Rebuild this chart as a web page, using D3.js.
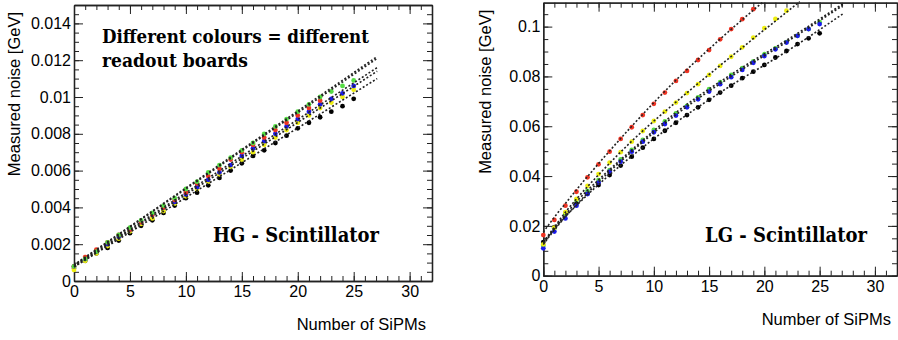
<!DOCTYPE html>
<html>
<head>
<meta charset="utf-8">
<script src="https://cdn.jsdelivr.net/npm/d3@7"></script>
<style>
  body { margin: 0; background: #fff; }
  svg { display: block; }
  .tick text { font-family: "Liberation Sans", Arial, sans-serif; font-size: 16px; fill: #000; }
  .axtitle { font-family: "Liberation Sans", Arial, sans-serif; font-size: 16.5px; fill: #000; }
  .note { font-family: "DejaVu Serif", serif; font-weight: bold; fill: #000; }
</style>
</head>
<body>
<svg id="chart" width="898" height="340"></svg>
<script>
// number of SiPMs on each point
const nSipm = d3.range(0, 26);

// HG - Scintillator, measured noise [GeV] per readout board
const hgGreen = [0.0008, 0.0012, 0.0016, 0.0021, 0.0025, 0.0029, 0.0033, 0.0037, 0.0041, 0.0045, 0.0050, 0.0054, 0.0059, 0.0063, 0.0067, 0.0071, 0.0075, 0.0080, 0.0084, 0.0088, 0.0092, 0.0096, 0.0100, 0.0103, 0.0106, 0.0109];
const hgRed   = [0.0008, 0.0013, 0.0017, 0.0021, 0.0025, 0.0028, 0.0032, 0.0036, 0.0040, 0.0044, 0.0048, 0.0053, 0.0057, 0.0061, 0.0066, 0.0070, 0.0074, 0.0078, 0.0082, 0.0086, 0.0090, 0.0094, 0.0098];
const hgBlue  = [0.0008, 0.0012, 0.0016, 0.0020, 0.0024, 0.0028, 0.0032, 0.0036, 0.0040, 0.0043, 0.0047, 0.0051, 0.0055, 0.0059, 0.0063, 0.0068, 0.0072, 0.0076, 0.0080, 0.0084, 0.0088, 0.0092, 0.0096, 0.0099, 0.0102, 0.0106];
const hgYellow= [0.0006, 0.0011, 0.0015, 0.0019, 0.0023, 0.0027, 0.0031, 0.0034, 0.0038, 0.0042, 0.0046, 0.0050, 0.0054, 0.0058, 0.0062, 0.0066, 0.0070, 0.0074, 0.0078, 0.0082, 0.0086, 0.0090, 0.0094, 0.0097, 0.0100, 0.0104];
const hgBlack = [0.0007, 0.0011, 0.0015, 0.0018, 0.0022, 0.0026, 0.0030, 0.0033, 0.0037, 0.0041, 0.0045, 0.0048, 0.0052, 0.0056, 0.0060, 0.0064, 0.0068, 0.0071, 0.0075, 0.0079, 0.0083, 0.0086, 0.0089, 0.0092, 0.0095, 0.0099];

// HG fits, [N, noise]
const hgFitGreen  = [[0, 0.00088], [27.1, 0.0122]];
const hgFitRed    = [[0, 0.00085], [27.1, 0.0121]];
const hgFitBlue   = [[0, 0.00082], [27.1, 0.0116]];
const hgFitYellow = [[0, 0.00078], [27.1, 0.0114]];
const hgFitBlack  = [[0, 0.00076], [27.1, 0.0110]];

// LG - Scintillator
const lgRed   = [0.0163, 0.0224, 0.0281, 0.0337, 0.0395, 0.0447, 0.0498, 0.0549, 0.0596, 0.0645, 0.0690, 0.0735, 0.0782, 0.0822, 0.0866, 0.0906, 0.0949, 0.0990, 0.1030, 0.1070];
const lgYellow= [0.0126, 0.0193, 0.0255, 0.0308, 0.0361, 0.0408, 0.0454, 0.0496, 0.0538, 0.0581, 0.0621, 0.0659, 0.0695, 0.0733, 0.0769, 0.0806, 0.0842, 0.0879, 0.0917, 0.0956, 0.0994, 0.1031, 0.1064, 0.1098];
const lgGreen = [0.0120, 0.0190, 0.0250, 0.0304, 0.0340, 0.0384, 0.0424, 0.0467, 0.0505, 0.0545, 0.0585, 0.0619, 0.0652, 0.0682, 0.0716, 0.0749, 0.0777, 0.0806, 0.0833, 0.0860, 0.0889, 0.0913, 0.0938, 0.0963, 0.0990, 0.1018];
const lgBlue  = [0.0110, 0.0177, 0.0230, 0.0281, 0.0328, 0.0374, 0.0418, 0.0458, 0.0498, 0.0538, 0.0576, 0.0609, 0.0643, 0.0676, 0.0708, 0.0739, 0.0769, 0.0797, 0.0826, 0.0855, 0.0882, 0.0909, 0.0936, 0.0963, 0.0990, 0.1010];
const lgBlack = [0.0135, 0.0195, 0.0250, 0.0290, 0.0330, 0.0364, 0.0404, 0.0442, 0.0478, 0.0514, 0.0549, 0.0582, 0.0614, 0.0645, 0.0676, 0.0706, 0.0735, 0.0763, 0.0793, 0.0819, 0.0846, 0.0876, 0.0902, 0.0930, 0.0953, 0.0973];

// LG fits
const lgFitRed    = [[0, 0.0175], [0.5, 0.0205], [1, 0.0235], [2, 0.0290], [3, 0.0345], [5, 0.0450], [8, 0.0600], [12, 0.0785], [16, 0.0950], [19.9, 0.1100]];
const lgFitYellow = [[0, 0.0135], [0.5, 0.0165], [1, 0.0195], [2, 0.0255], [3, 0.0308], [5, 0.0405], [8, 0.0540], [12, 0.0697], [17, 0.0880], [23.2, 0.1100]];
const lgFitGreen  = [[0, 0.0130], [0.5, 0.0160], [1, 0.0190], [2, 0.0245], [3, 0.0297], [5, 0.0385], [8, 0.0505], [12, 0.0655], [17, 0.0808], [22, 0.0945], [27.1, 0.1091]];
const lgFitBlue   = [[0, 0.0125], [0.5, 0.0155], [1, 0.0183], [2, 0.0237], [3, 0.0285], [5, 0.0376], [8, 0.0498], [12, 0.0646], [17, 0.0800], [22, 0.0938], [27.1, 0.1085]];
const lgFitBlack  = [[0, 0.0135], [0.5, 0.0160], [1, 0.0188], [2, 0.0238], [3, 0.0282], [5, 0.0366], [8, 0.0480], [12, 0.0615], [17, 0.0764], [22, 0.0900], [27.1, 0.1051]];

// axis ticks
const xTicks = [0, 5, 10, 15, 20, 25, 30];
const xTickLabels = ["0", "5", "10", "15", "20", "25", "30"];
const hgYTicks = [0, 0.002, 0.004, 0.006, 0.008, 0.01, 0.012, 0.014];
const hgYTickLabels = ["0", "0.002", "0.004", "0.006", "0.008", "0.01", "0.012", "0.014"];
const lgYTicks = [0, 0.02, 0.04, 0.06, 0.08, 0.1];
const lgYTickLabels = ["0", "0.02", "0.04", "0.06", "0.08", "0.1"];

const colors = { green: "#55dd44", red: "#ee3322", blue: "#1a1aee", yellow: "#eeee11", black: "#000" };

const svg = d3.select("#chart");

function drawPanel(p) {
  const x = d3.scaleLinear().domain([0, 32]).range([p.left, p.right]);
  const y = d3.scaleLinear().domain([0, p.ymax]).range([p.bottom, p.top]);
  const g = svg.append("g");

  // frame + ticks (ROOT style, ticks inward on all sides)
  const minorX = d3.range(0, 33);
  const minorY = d3.range(0, p.ymax + 1e-9, p.yminor);

  const addAxis = (axis, transform) => {
    g.append("g").attr("transform", transform).call(axis)
      .call(s => s.select(".domain").attr("stroke", "#222").attr("stroke-width", 1.3))
      .call(s => s.selectAll(".tick line").attr("stroke", "#222").attr("stroke-width", 1));
  };
  addAxis(d3.axisBottom(x).tickValues(minorX).tickFormat("").tickSize(-5).tickSizeOuter(0), `translate(0,${p.bottom})`);
  addAxis(d3.axisBottom(x).tickValues(xTicks).tickFormat((d, i) => xTickLabels[i]).tickSize(-9).tickSizeOuter(0).tickPadding(5), `translate(0,${p.bottom})`);
  addAxis(d3.axisTop(x).tickValues(minorX).tickFormat("").tickSize(-5).tickSizeOuter(0), `translate(0,${p.top})`);
  addAxis(d3.axisTop(x).tickValues(xTicks).tickFormat("").tickSize(-9).tickSizeOuter(0), `translate(0,${p.top})`);
  addAxis(d3.axisLeft(y).tickValues(minorY).tickFormat("").tickSize(-5).tickSizeOuter(0), `translate(${p.left},0)`);
  addAxis(d3.axisLeft(y).tickValues(p.yTicks).tickFormat((d, i) => p.yLabels[i]).tickSize(-9).tickSizeOuter(0).tickPadding(3), `translate(${p.left},0)`);
  addAxis(d3.axisRight(y).tickValues(minorY).tickFormat("").tickSize(-5).tickSizeOuter(0), `translate(${p.right},0)`);
  addAxis(d3.axisRight(y).tickValues(p.yTicks).tickFormat("").tickSize(-9).tickSizeOuter(0), `translate(${p.right},0)`);

  // nudge the zero labels like ROOT does
  g.selectAll(".tick text").filter(d => d === 0).attr("dy", function () {
    return d3.select(this).attr("dy");
  });

  // points
  p.series.forEach(s => {
    g.append("g").selectAll("circle")
      .data(s.values.map((v, i) => [nSipm[i], v]).filter(d => d[1] <= p.ymax))
      .enter().append("circle")
        .attr("cx", d => x(d[0]))
        .attr("cy", d => y(d[1]))
        .attr("r", 2.4)
        .attr("fill", s.color);
  });

  // fits, dotted
  const line = d3.line().x(d => x(d[0])).y(d => y(d[1])).curve(d3.curveMonotoneX);
  p.fits.forEach(f => {
    g.append("path")
      .attr("d", line(f))
      .attr("fill", "none")
      .attr("stroke", "#222")
      .attr("stroke-width", 1.6)
      .attr("stroke-dasharray", "2,2");
  });

  // axis titles
  g.append("text").attr("class", "axtitle")
    .attr("x", p.right - 6).attr("y", p.bottom + 49)
    .attr("text-anchor", "end")
    .text("Number of SiPMs");
  g.append("text").attr("class", "axtitle")
    .attr("transform", `translate(${p.ytitleX},${p.top + 7}) rotate(-90)`)
    .attr("text-anchor", "end")
    .text("Measured noise [GeV]");

  // labels inside the frame
  p.notes.forEach(n => {
    g.append("text").attr("class", "note")
      .attr("x", n.x).attr("y", n.y)
      .attr("font-size", n.size)
      .attr("textLength", n.w).attr("lengthAdjust", "spacingAndGlyphs")
      .text(n.text);
  });
}

drawPanel({
  left: 74, right: 432, top: 5, bottom: 281,
  ymax: 0.015, yminor: 0.0005,
  yTicks: hgYTicks, yLabels: hgYTickLabels,
  ytitleX: 20,
  series: [
    { values: hgBlack, color: colors.black },
    { values: hgYellow, color: colors.yellow },
    { values: hgBlue, color: colors.blue },
    { values: hgRed, color: colors.red },
    { values: hgGreen, color: colors.green }
  ],
  fits: [hgFitGreen, hgFitRed, hgFitBlue, hgFitYellow, hgFitBlack],
  notes: [
    { text: "Different colours = different", x: 102, y: 43, size: 18, w: 267 },
    { text: "readout boards", x: 102, y: 67, size: 18, w: 146 },
    { text: "HG - Scintillator", x: 213, y: 242, size: 20, w: 166 }
  ]
});

drawPanel({
  left: 543.3, right: 897, top: 2.7, bottom: 275.7,
  ymax: 0.1096, yminor: 0.005,
  yTicks: lgYTicks, yLabels: lgYTickLabels,
  ytitleX: 491,
  series: [
    { values: lgBlack, color: colors.black },
    { values: lgGreen, color: colors.green },
    { values: lgBlue, color: colors.blue },
    { values: lgYellow, color: colors.yellow },
    { values: lgRed, color: colors.red }
  ],
  fits: [lgFitRed, lgFitYellow, lgFitGreen, lgFitBlue, lgFitBlack],
  notes: [
    { text: "LG - Scintillator", x: 705, y: 242, size: 20, w: 162 }
  ]
});
</script>
</body>
</html>
